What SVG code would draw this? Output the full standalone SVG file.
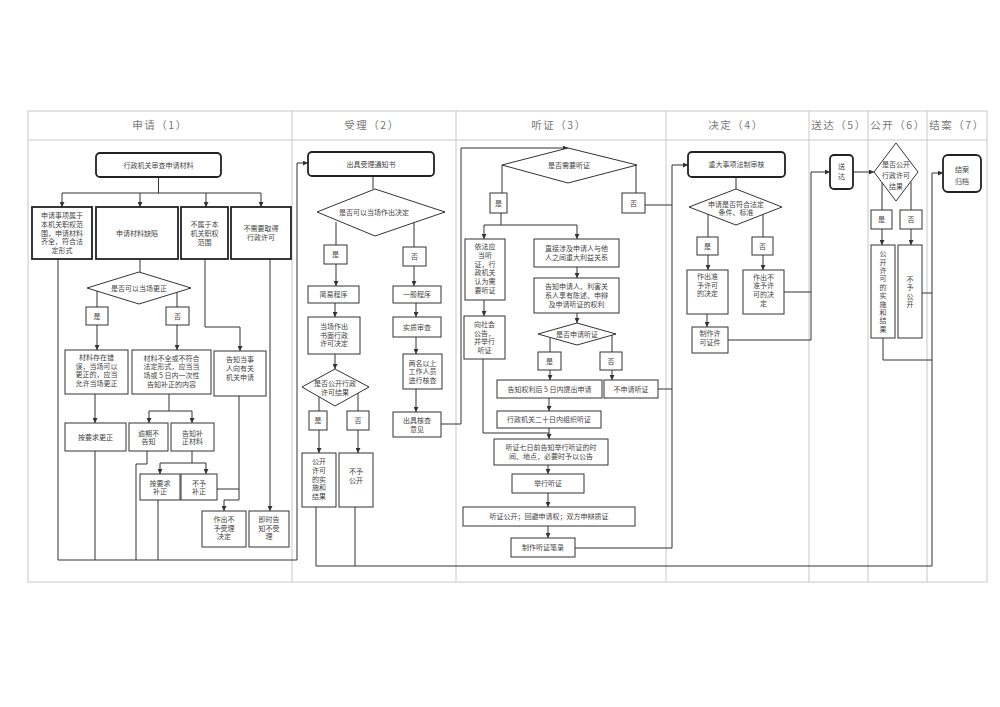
<svg xmlns="http://www.w3.org/2000/svg" width="1000" height="707" viewBox="0 0 1000 707">
<style>
.t{font-family:"Noto Sans CJK SC","Noto Sans",sans-serif;font-size:7px;fill:#444;text-anchor:middle}
.h{font-family:"Noto Sans CJK SC","Noto Sans",sans-serif;font-size:10.5px;fill:#777;text-anchor:middle;letter-spacing:1.5px}
.b{fill:#fff;stroke:#333;stroke-width:1}
.k{fill:#fff;stroke:#222;stroke-width:1.8}
.c{fill:none;stroke:#333;stroke-width:1}
.ca{fill:none;stroke:#333;stroke-width:1;marker-end:url(#a)}
.g{fill:none;stroke:#c8c8c8;stroke-width:1}
</style>
<defs>
<marker id="a" markerWidth="5" markerHeight="5" refX="5" refY="2.5" orient="auto" markerUnits="userSpaceOnUse"><path d="M0,0 L5,2.5 L0,5 z" fill="#333"/></marker>
</defs>
<rect width="1000" height="707" fill="#fff"/>
<g id="table">
<rect class="g" x="28" y="111" width="959" height="471"/>
<line class="g" x1="28" y1="140" x2="987" y2="140"/>
<line class="g" x1="292" y1="111" x2="292" y2="582"/>
<line class="g" x1="456" y1="111" x2="456" y2="582"/>
<line class="g" x1="666" y1="111" x2="666" y2="582"/>
<line class="g" x1="809" y1="111" x2="809" y2="582"/>
<line class="g" x1="868" y1="111" x2="868" y2="582"/>
<line class="g" x1="927" y1="111" x2="927" y2="582"/>
<text class="h" x="160" y="129">申请（1）</text>
<text class="h" x="372" y="129">受理（2）</text>
<text class="h" x="559" y="129">听证（3）</text>
<text class="h" x="736" y="129">决定（4）</text>
<text class="h" x="839" y="129">送达（5）</text>
<text class="h" x="898" y="129">公开（6）</text>
<text class="h" x="957" y="129">结案（7）</text>
</g>
<g id="connectors">
<polyline class="c" points="158.5,177 158.5,193"/>
<line class="c" x1="62" y1="193" x2="261" y2="193"/>
<line class="ca" x1="62" y1="193" x2="62" y2="207"/>
<line class="ca" x1="140" y1="193" x2="140" y2="207"/>
<line class="ca" x1="206" y1="193" x2="206" y2="207"/>
<line class="ca" x1="261" y1="193" x2="261" y2="207"/>
<line class="c" x1="140" y1="259" x2="140" y2="272"/>
<line class="c" x1="97" y1="291" x2="97" y2="307"/>
<line class="ca" x1="97" y1="325" x2="97" y2="350"/>
<line class="c" x1="177" y1="292" x2="177" y2="307"/>
<line class="ca" x1="177" y1="325" x2="177" y2="350"/>
<polyline class="ca" points="205,259 205,327 240,327 240,351"/>
<line class="ca" x1="270" y1="259" x2="270" y2="511"/>
<line class="ca" x1="95" y1="394" x2="95" y2="423"/>
<line class="c" x1="169" y1="394" x2="169" y2="411"/>
<line class="c" x1="149" y1="411" x2="192" y2="411"/>
<line class="ca" x1="149" y1="411" x2="149" y2="423"/>
<line class="ca" x1="192" y1="411" x2="192" y2="423"/>
<line class="c" x1="192" y1="451" x2="192" y2="463"/>
<line class="c" x1="160" y1="463" x2="206" y2="463"/>
<line class="ca" x1="160" y1="463" x2="160" y2="474"/>
<line class="ca" x1="206" y1="463" x2="206" y2="474"/>
<line class="c" x1="217" y1="489" x2="239" y2="489"/>
<polyline class="ca" points="239,396 239,500 224,500 224,511"/>
<line class="c" x1="58" y1="259" x2="58" y2="560"/>
<line class="c" x1="95" y1="451" x2="95" y2="560"/>
<polyline class="c" points="147,451 147,464 136,464 136,560"/>
<line class="c" x1="158" y1="500" x2="158" y2="560"/>
<polyline class="ca" points="58,560 297,560 297,163 308,163"/>
<line class="c" x1="373" y1="176" x2="373" y2="189"/>
<line class="c" x1="336" y1="222" x2="336" y2="245"/>
<line class="ca" x1="336" y1="264" x2="336" y2="286"/>
<line class="c" x1="414" y1="221" x2="414" y2="247"/>
<line class="ca" x1="414" y1="266" x2="414" y2="286"/>
<line class="ca" x1="335" y1="303" x2="335" y2="317"/>
<line class="ca" x1="416" y1="303" x2="416" y2="317"/>
<line class="ca" x1="416" y1="337" x2="416" y2="354"/>
<line class="ca" x1="416" y1="389" x2="416" y2="412"/>
<polyline class="ca" points="441,424 461,424 461,148 568,148"/>
<line class="ca" x1="335" y1="354" x2="335" y2="369"/>
<line class="c" x1="319" y1="396" x2="319" y2="411"/>
<line class="ca" x1="319" y1="430" x2="319" y2="453"/>
<line class="c" x1="358" y1="393" x2="358" y2="411"/>
<line class="ca" x1="358" y1="430" x2="358" y2="453"/>
<line class="c" x1="316" y1="507" x2="316" y2="566"/>
<line class="c" x1="355" y1="507" x2="355" y2="566"/>
<line class="c" x1="316" y1="566" x2="932" y2="566"/>
<line class="c" x1="502" y1="165" x2="502" y2="193"/>
<line class="c" x1="501" y1="213" x2="501" y2="225"/>
<line class="c" x1="484" y1="225" x2="577" y2="225"/>
<line class="ca" x1="484" y1="225" x2="484" y2="239"/>
<line class="ca" x1="577" y1="225" x2="577" y2="239"/>
<line class="c" x1="636" y1="165" x2="636" y2="193"/>
<line class="c" x1="645" y1="205" x2="672" y2="205"/>
<line class="ca" x1="484" y1="300" x2="484" y2="316"/>
<polyline class="ca" points="483,359 483,433 549,433 549,439"/>
<line class="ca" x1="577" y1="267" x2="577" y2="278"/>
<line class="ca" x1="577" y1="313" x2="577" y2="323"/>
<line class="c" x1="550" y1="338" x2="550" y2="352"/>
<line class="ca" x1="550" y1="370" x2="550" y2="380"/>
<line class="c" x1="612" y1="335" x2="612" y2="352"/>
<line class="ca" x1="612" y1="370" x2="612" y2="380"/>
<line class="c" x1="658" y1="389" x2="672" y2="389"/>
<line class="ca" x1="549" y1="398" x2="549" y2="411"/>
<line class="c" x1="549" y1="428" x2="549" y2="433"/>
<line class="ca" x1="548" y1="465" x2="548" y2="474"/>
<line class="ca" x1="548" y1="493" x2="548" y2="507"/>
<line class="ca" x1="548" y1="526" x2="548" y2="538"/>
<polyline class="ca" points="575,548 672,548 672,165 688,165"/>
<line class="c" x1="736" y1="177" x2="736" y2="189"/>
<line class="c" x1="708" y1="214" x2="708" y2="237"/>
<line class="ca" x1="708" y1="255" x2="708" y2="270"/>
<line class="c" x1="763" y1="214" x2="763" y2="237"/>
<line class="ca" x1="763" y1="255" x2="763" y2="270"/>
<line class="ca" x1="707" y1="314" x2="707" y2="327"/>
<line class="c" x1="784" y1="292" x2="811" y2="292"/>
<polyline class="ca" points="728,340 811,340 811,172 830,172"/>
<line class="ca" x1="853" y1="172" x2="874" y2="172"/>
<line class="c" x1="882" y1="183" x2="882" y2="210"/>
<line class="ca" x1="882" y1="229" x2="882" y2="245"/>
<line class="c" x1="911" y1="182" x2="911" y2="210"/>
<line class="ca" x1="911" y1="229" x2="911" y2="245"/>
<line class="c" x1="922" y1="293" x2="932" y2="293"/>
<polyline class="c" points="883,338 883,360 932,360"/>
<polyline class="ca" points="932,566 932,173 943,173"/>
</g>
<g id="n1"><rect class="k" x="96" y="153" width="125" height="24" rx="4"/><text class="t" x="158.5" y="167.5">行政机关审查申请材料</text></g>
<g id="b1"><rect class="k" x="32" y="207" width="60" height="52"/><text class="t" x="62" y="218.1">申请事项属于<tspan x="62" dy="8.7">本机关职权范</tspan><tspan x="62" dy="8.7">围，申请材料</tspan><tspan x="62" dy="8.7">齐全，符合法</tspan><tspan x="62" dy="8.7">定形式</tspan></text></g>
<g id="b2"><rect class="k" x="96" y="207" width="82" height="52"/><text class="t" x="137" y="235.5">申请材料缺陷</text></g>
<g id="b3"><rect class="k" x="181" y="207" width="47" height="52"/><text class="t" x="204.5" y="227.3">不属于本<tspan x="204.5" dy="8.7">机关职权</tspan><tspan x="204.5" dy="8.7">范围</tspan></text></g>
<g id="b4"><rect class="k" x="231" y="207" width="60" height="52"/><text class="t" x="261" y="231.2">不需要取得<tspan x="261" dy="8.7">行政许可</tspan></text></g>
<g id="d1"><polygon class="b" points="139,272 191,288 139,304 87,288"/><text class="t" x="139" y="290.5">是否可以当场更正</text></g>
<g id="y1"><rect class="b" x="86" y="307" width="22" height="18"/><text class="t" x="97" y="318.5">是</text></g>
<g id="f1"><rect class="b" x="166" y="307" width="23" height="18"/><text class="t" x="177.5" y="318.5">否</text></g>
<g id="b5"><rect class="b" x="65" y="350" width="63" height="44"/><text class="t" x="96.5" y="360">材料存在错<tspan x="96.5" dy="8.7">误，当场可以</tspan><tspan x="96.5" dy="8.7">更正的，应当</tspan><tspan x="96.5" dy="8.7">允许当场更正</tspan></text></g>
<g id="b6"><rect class="b" x="132" y="350" width="79" height="44"/><text class="t" x="171.5" y="360.5">材料不全或不符合<tspan x="171.5" dy="8.7">法定形式，应当当</tspan><tspan x="171.5" dy="8.7">场或 5 日内一次性</tspan><tspan x="171.5" dy="8.7">告知补正的内容</tspan></text></g>
<g id="b7"><rect class="b" x="214" y="351" width="52" height="45"/><text class="t" x="240" y="362.3">告知当事<tspan x="240" dy="8.7">人向有关</tspan><tspan x="240" dy="8.7">机关申请</tspan></text></g>
<g id="b8"><rect class="b" x="65" y="423" width="61" height="28"/><text class="t" x="95.5" y="439.5">按要求更正</text></g>
<g id="b9"><rect class="b" x="129" y="423" width="39" height="28"/><text class="t" x="148.5" y="435.7">逾期不<tspan x="148.5" dy="8.7">告知</tspan></text></g>
<g id="b10"><rect class="b" x="171" y="423" width="43" height="28"/><text class="t" x="192.5" y="435.7">告知补<tspan x="192.5" dy="8.7">正材料</tspan></text></g>
<g id="b11"><rect class="b" x="140" y="474" width="40" height="26"/><text class="t" x="160" y="485.7">按要求<tspan x="160" dy="8.7">补正</tspan></text></g>
<g id="b12"><rect class="b" x="181" y="474" width="36" height="26"/><text class="t" x="199" y="485.7">不予<tspan x="199" dy="8.7">补正</tspan></text></g>
<g id="b13"><rect class="b" x="202" y="511" width="44" height="36"/><text class="t" x="224" y="521.8">作出不<tspan x="224" dy="8.7">予受理</tspan><tspan x="224" dy="8.7">决定</tspan></text></g>
<g id="b14"><rect class="b" x="249" y="511" width="40" height="36"/><text class="t" x="269" y="521.8">即时告<tspan x="269" dy="8.7">知不受</tspan><tspan x="269" dy="8.7">理</tspan></text></g>
<g id="n2"><rect class="k" x="308" y="152" width="126" height="24" rx="4"/><text class="t" x="371" y="166.5">出具受理通知书</text></g>
<g id="d2"><polygon class="b" points="375,189 445,212 375,236 317,212"/><text class="t" x="374" y="214.5">是否可以当场作出决定</text></g>
<g id="y2"><rect class="b" x="324" y="245" width="23" height="19"/><text class="t" x="335.5" y="257">是</text></g>
<g id="f2"><rect class="b" x="403" y="247" width="23" height="19"/><text class="t" x="414.5" y="259">否</text></g>
<g id="b15"><rect class="b" x="308" y="286" width="51" height="17"/><text class="t" x="333.5" y="297">简易程序</text></g>
<g id="b16"><rect class="b" x="393" y="286" width="48" height="17"/><text class="t" x="417" y="297">一般程序</text></g>
<g id="b17"><rect class="b" x="308" y="317" width="52" height="37"/><text class="t" x="334" y="328.8">当场作出<tspan x="334" dy="8.7">书面行政</tspan><tspan x="334" dy="8.7">许可决定</tspan></text></g>
<g id="b18"><rect class="b" x="393" y="317" width="48" height="20"/><text class="t" x="417" y="329.5">实质审查</text></g>
<g id="b19"><rect class="b" x="403" y="354" width="39" height="35"/><text class="t" x="422.5" y="365.5">两名以上<tspan x="422.5" dy="8.7">工作人员</tspan><tspan x="422.5" dy="8.7">进行核查</tspan></text></g>
<g id="b20"><rect class="b" x="393" y="412" width="48" height="25"/><text class="t" x="417" y="423.2">出具核查<tspan x="417" dy="8.7">意见</tspan></text></g>
<g id="d3"><polygon class="b" points="335,369 369,387 335,406 302,387"/><text class="t" x="335" y="386.2">是否公开行政<tspan x="335" dy="8.7">许可结果</tspan></text></g>
<g id="y3"><rect class="b" x="309" y="411" width="18" height="19"/><text class="t" x="318" y="423">是</text></g>
<g id="f3"><rect class="b" x="347" y="411" width="22" height="19"/><text class="t" x="358" y="423">否</text></g>
<g id="b21"><rect class="b" x="302" y="453" width="34" height="54"/><text class="t" x="319" y="464.1">公开<tspan x="319" dy="8.7">许可</tspan><tspan x="319" dy="8.7">的实</tspan><tspan x="319" dy="8.7">施和</tspan><tspan x="319" dy="8.7">结果</tspan></text></g>
<g id="b22"><rect class="b" x="339" y="453" width="34" height="54"/><text class="t" x="356" y="474.2">不予<tspan x="356" dy="8.7">公开</tspan></text></g>
<g id="d4"><polygon class="b" points="568,148 637,165 568,183 502,165"/><text class="t" x="569" y="167.5">是否需要听证</text></g>
<g id="y4"><rect class="b" x="490" y="193" width="17" height="20"/><text class="t" x="498.5" y="205.5">是</text></g>
<g id="f4"><rect class="b" x="622" y="193" width="23" height="20"/><text class="t" x="633.5" y="205.5">否</text></g>
<g id="b23"><rect class="b" x="465" y="239" width="40" height="61"/><text class="t" x="485" y="249.3">依法应<tspan x="485" dy="8.7">当听</tspan><tspan x="485" dy="8.7">证，行</tspan><tspan x="485" dy="8.7">政机关</tspan><tspan x="485" dy="8.7">认为需</tspan><tspan x="485" dy="8.7">要听证</tspan></text></g>
<g id="b24"><rect class="b" x="464" y="316" width="41" height="43"/><text class="t" x="484.5" y="327">向社会<tspan x="484.5" dy="8.7">公告，</tspan><tspan x="484.5" dy="8.7">并举行</tspan><tspan x="484.5" dy="8.7">听证</tspan></text></g>
<g id="b25"><rect class="b" x="534" y="239" width="85" height="28"/><text class="t" x="576.5" y="251.2">直接涉及申请人与他<tspan x="576.5" dy="8.7">人之间重大利益关系</tspan></text></g>
<g id="b26"><rect class="b" x="534" y="278" width="85" height="35"/><text class="t" x="576.5" y="289.3">告知申请人、利害关<tspan x="576.5" dy="8.7">系人享有陈述、申辩</tspan><tspan x="576.5" dy="8.7">及申请听证的权利</tspan></text></g>
<g id="d5"><polygon class="b" points="577,323 616,334 577,345 538,334"/><text class="t" x="577" y="336.5">是否申请听证</text></g>
<g id="y5"><rect class="b" x="538" y="352" width="23" height="18"/><text class="t" x="549.5" y="363.5">是</text></g>
<g id="f5"><rect class="b" x="600" y="352" width="22" height="18"/><text class="t" x="611" y="363.5">否</text></g>
<g id="b27"><rect class="b" x="497" y="380" width="105" height="18"/><text class="t" x="549.5" y="391.5">告知权利后 5 日内提出申请</text></g>
<g id="b28"><rect class="b" x="604" y="380" width="54" height="18"/><text class="t" x="631" y="391.5">不申请听证</text></g>
<g id="b29"><rect class="b" x="497" y="411" width="104" height="17"/><text class="t" x="549" y="422">行政机关二十日内组织听证</text></g>
<g id="b30"><rect class="b" x="494" y="439" width="114" height="26"/><text class="t" x="551" y="450.2">听证七日前告知举行听证的时<tspan x="551" dy="8.7">间、地点，必要时予以公告</tspan></text></g>
<g id="b31"><rect class="b" x="512" y="474" width="72" height="19"/><text class="t" x="548" y="486">举行听证</text></g>
<g id="b32"><rect class="b" x="463" y="507" width="172" height="19"/><text class="t" x="549" y="519">听证公开；回避申请权；双方申辩质证</text></g>
<g id="b33"><rect class="b" x="511" y="538" width="64" height="19"/><text class="t" x="543" y="550">制作听证笔录</text></g>
<g id="n3"><rect class="k" x="688" y="152" width="97" height="25" rx="4"/><text class="t" x="736.5" y="167">重大事项法制审核</text></g>
<g id="d6"><polygon class="b" points="736,189 782,207 736,225 689,207"/><text class="t" x="736" y="206.7">申请是否符合法定<tspan x="736" dy="8.7">条件、标准</tspan></text></g>
<g id="y6"><rect class="b" x="697" y="237" width="21" height="18"/><text class="t" x="707.5" y="248.5">是</text></g>
<g id="f6"><rect class="b" x="752" y="237" width="21" height="18"/><text class="t" x="762.5" y="248.5">否</text></g>
<g id="b34"><rect class="b" x="687" y="270" width="41" height="44"/><text class="t" x="707.5" y="278.8">作出准<tspan x="707.5" dy="8.7">予许可</tspan><tspan x="707.5" dy="8.7">的决定</tspan></text></g>
<g id="b35"><rect class="b" x="743" y="270" width="41" height="44"/><text class="t" x="763.5" y="279.5">作出不<tspan x="763.5" dy="8.7">准予许</tspan><tspan x="763.5" dy="8.7">可的决</tspan><tspan x="763.5" dy="8.7">定</tspan></text></g>
<g id="b36"><rect class="b" x="692" y="327" width="36" height="26"/><text class="t" x="710" y="336.2">制作许<tspan x="710" dy="8.7">可证件</tspan></text></g>
<g id="n4"><rect class="k" x="830" y="155" width="23" height="34" rx="4"/><text class="t" x="841.5" y="168.5">送<tspan x="841.5" dy="10">达</tspan></text></g>
<g id="d7"><polygon class="b" points="896,143 918,172 896,201 874,172"/><text class="t" x="896" y="167">是否公开<tspan x="896" dy="11">行政许可</tspan><tspan x="896" dy="11">结果</tspan></text></g>
<g id="y7"><rect class="b" x="871" y="210" width="21" height="19"/><text class="t" x="881.5" y="222">是</text></g>
<g id="f7"><rect class="b" x="900" y="210" width="22" height="19"/><text class="t" x="911" y="222">否</text></g>
<g id="b37"><rect class="b" x="871" y="245" width="24" height="93"/><text class="t" x="883" y="256.2">公<tspan x="883" dy="8.4">开</tspan><tspan x="883" dy="8.4">许</tspan><tspan x="883" dy="8.4">可</tspan><tspan x="883" dy="8.4">的</tspan><tspan x="883" dy="8.4">实</tspan><tspan x="883" dy="8.4">施</tspan><tspan x="883" dy="8.4">和</tspan><tspan x="883" dy="8.4">结</tspan><tspan x="883" dy="8.4">果</tspan></text></g>
<g id="b38"><rect class="b" x="898" y="245" width="24" height="93"/><text class="t" x="910" y="281.9">不<tspan x="910" dy="8.4">予</tspan><tspan x="910" dy="8.4">公</tspan><tspan x="910" dy="8.4">开</tspan></text></g>
<g id="n5"><rect class="k" x="943" y="155" width="38" height="37" rx="5"/><text class="t" x="962" y="171.5">结案<tspan x="962" dy="12">归档</tspan></text></g>
</svg>
